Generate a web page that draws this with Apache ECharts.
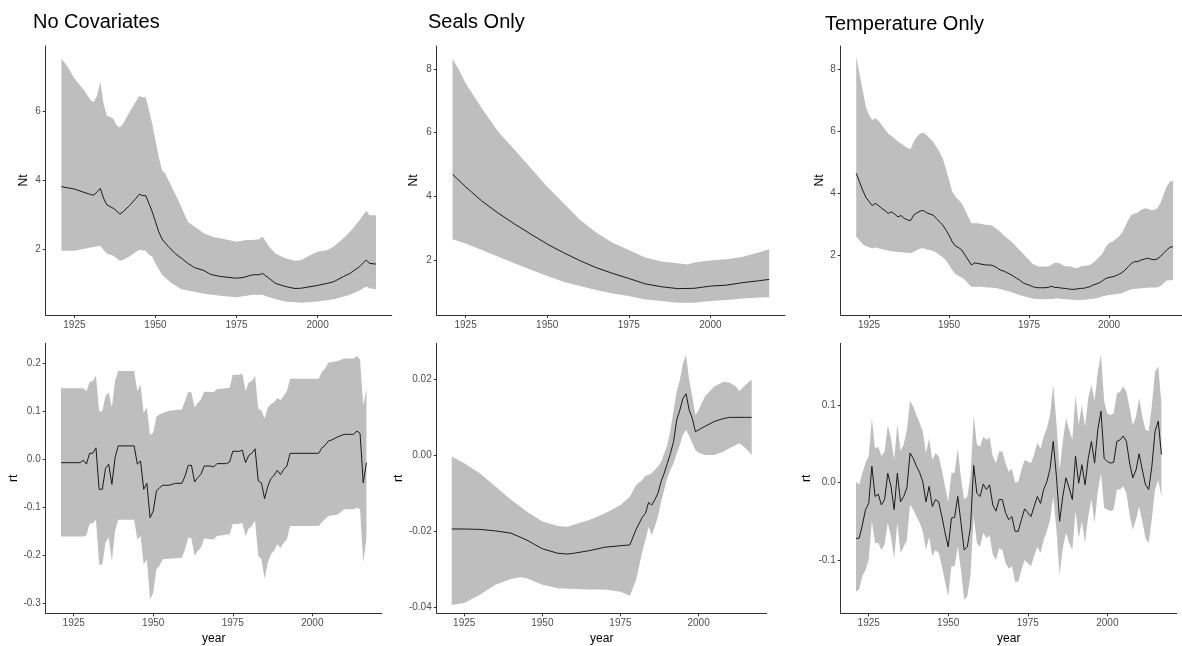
<!DOCTYPE html>
<html><head><meta charset="utf-8">
<script src="https://cdn.jsdelivr.net/npm/echarts@6/dist/echarts.min.js"></script>
<style>html,body{margin:0;padding:0;background:#fff}#c{width:1182px;height:646px}</style>
</head><body><div id="c"></div>
<script>
// ---------- tick labels ----------
const xTicks = [1925, 1950, 1975, 2000];
const ntTicks = [2, 4, 6];
const ntTicks8 = [2, 4, 6, 8];
const rtTicksNC = [-0.3, -0.2, -0.1, 0.0, 0.1, 0.2];
const rtTicksSeal = [-0.04, -0.02, 0.00, 0.02];
const rtTicksTemp = [-0.1, 0.0, 0.1];
const titles = ["No Covariates", "Seals Only", "Temperature Only"];

// ---------- No Covariates: Nt ----------
const ncNtMean = [[1921,3.82],[1925,3.75],[1930,3.59],[1931,3.57],[1932,3.67],[1933,3.77],[1934,3.48],[1935,3.29],[1937,3.19],[1938,3.12],[1939,3.02],[1940,3.09],[1942,3.27],[1944,3.48],[1945,3.6],[1946,3.56],[1947,3.56],[1948,3.33],[1949,3.09],[1950,2.8],[1951,2.51],[1952,2.3],[1954,2.08],[1956,1.88],[1958,1.74],[1960,1.59],[1962,1.47],[1965,1.38],[1967,1.27],[1970,1.21],[1975,1.16],[1977,1.18],[1980,1.26],[1982,1.26],[1983,1.3],[1985,1.16],[1987,1.01],[1990,0.92],[1993,0.86],[1995,0.87],[2000,0.95],[2003,1.01],[2005,1.06],[2008,1.21],[2010,1.3],[2013,1.5],[2015,1.69],[2016,1.59],[2018,1.57]];
const ncNtUpper = [[1921,7.54],[1923,7.29],[1925,6.96],[1928,6.62],[1930,6.33],[1931,6.28],[1932,6.47],[1933,6.86],[1934,6.23],[1935,5.89],[1937,5.8],[1938,5.6],[1939,5.54],[1940,5.65],[1942,5.99],[1944,6.3],[1945,6.45],[1946,6.42],[1947,6.42],[1948,6.04],[1949,5.65],[1950,5.17],[1951,4.69],[1952,4.3],[1953,4.2],[1955,3.82],[1957,3.43],[1960,2.8],[1962,2.66],[1965,2.46],[1968,2.35],[1970,2.32],[1975,2.22],[1978,2.27],[1980,2.27],[1982,2.29],[1983,2.37],[1985,2.08],[1987,1.88],[1990,1.74],[1993,1.67],[1995,1.69],[1998,1.84],[2000,1.93],[2003,1.98],[2005,2.08],[2008,2.32],[2010,2.51],[2013,2.85],[2015,3.12],[2016,2.99],[2018,2.99]];
const ncNtLower = [[1921,1.96],[1925,1.96],[1930,2.05],[1933,2.1],[1934,1.98],[1935,1.88],[1937,1.81],[1939,1.67],[1940,1.69],[1942,1.79],[1944,1.93],[1945,1.98],[1947,1.96],[1948,1.84],[1949,1.79],[1950,1.59],[1952,1.26],[1955,1.01],[1958,0.84],[1960,0.8],[1965,0.71],[1970,0.65],[1975,0.61],[1980,0.68],[1983,0.68],[1985,0.61],[1988,0.53],[1990,0.48],[1995,0.45],[2000,0.48],[2005,0.55],[2010,0.68],[2013,0.8],[2015,0.92],[2016,0.87],[2018,0.84]];

// ---------- No Covariates: rt ----------
const ncRtMean = [[1921,-0.007],[1927,-0.007],[1928,-0.002],[1929,-0.010],[1930,0.0125],[1931,0.0125],[1932,0.024],[1933,-0.0625],[1934,-0.0625],[1935,-0.019],[1936,-0.010],[1937,-0.052],[1938,0.0035],[1939,0.028],[1944,0.028],[1945,-0.010],[1946,-0.0035],[1947,-0.0625],[1948,-0.05],[1949,-0.1215],[1950,-0.108],[1951,-0.066],[1952,-0.059],[1953,-0.054],[1955,-0.054],[1957,-0.05],[1959,-0.05],[1960,-0.035],[1961,-0.0125],[1962,-0.0125],[1963,-0.047],[1964,-0.038],[1965,-0.031],[1966,-0.014],[1968,-0.014],[1969,-0.016],[1970,-0.009],[1973,-0.009],[1974,-0.0055],[1975,0.0167],[1977,0.0167],[1978,0.019],[1979,-0.007],[1980,0.008],[1981,0.0125],[1982,0.022],[1983,-0.045],[1984,-0.049],[1985,-0.082],[1986,-0.056],[1987,-0.040],[1988,-0.033],[1989,-0.023],[1990,-0.032],[1991,-0.021],[1992,-0.014],[1993,0.0125],[2002,0.0125],[2003,0.024],[2004,0.029],[2005,0.038],[2006,0.040],[2008,0.047],[2010,0.052],[2013,0.052],[2014,0.059],[2015,0.054],[2016,-0.049],[2017,-0.007]];
const ncRtUpper = [[1921,0.148],[1928,0.148],[1929,0.142],[1930,0.161],[1931,0.163],[1932,0.174],[1933,0.1],[1934,0.1],[1935,0.132],[1936,0.139],[1937,0.108],[1938,0.163],[1939,0.184],[1944,0.184],[1945,0.142],[1946,0.156],[1947,0.097],[1948,0.108],[1949,0.05],[1950,0.056],[1951,0.089],[1952,0.094],[1955,0.101],[1959,0.104],[1960,0.122],[1961,0.141],[1962,0.139],[1963,0.108],[1964,0.118],[1965,0.125],[1966,0.141],[1969,0.14],[1970,0.146],[1974,0.149],[1975,0.176],[1977,0.176],[1978,0.179],[1979,0.142],[1980,0.16],[1981,0.163],[1982,0.174],[1983,0.106],[1984,0.101],[1985,0.085],[1986,0.108],[1987,0.115],[1988,0.119],[1989,0.128],[1990,0.123],[1991,0.132],[1992,0.142],[1993,0.168],[2002,0.168],[2003,0.182],[2004,0.189],[2005,0.201],[2008,0.205],[2010,0.21],[2013,0.21],[2014,0.215],[2015,0.208],[2016,0.1125],[2017,0.146]];
const ncRtLower = [[1921,-0.161],[1928,-0.161],[1929,-0.158],[1930,-0.134],[1931,-0.133],[1932,-0.126],[1933,-0.219],[1934,-0.219],[1935,-0.174],[1936,-0.163],[1937,-0.212],[1938,-0.149],[1939,-0.126],[1944,-0.126],[1945,-0.167],[1946,-0.16],[1947,-0.219],[1948,-0.208],[1949,-0.292],[1950,-0.278],[1951,-0.229],[1952,-0.221],[1953,-0.208],[1955,-0.207],[1959,-0.205],[1960,-0.1875],[1961,-0.163],[1962,-0.165],[1963,-0.201],[1964,-0.191],[1965,-0.184],[1966,-0.165],[1969,-0.167],[1970,-0.16],[1974,-0.156],[1975,-0.135],[1977,-0.135],[1978,-0.132],[1979,-0.16],[1980,-0.144],[1981,-0.139],[1982,-0.128],[1983,-0.201],[1984,-0.208],[1985,-0.249],[1986,-0.215],[1987,-0.198],[1988,-0.19],[1989,-0.177],[1990,-0.185],[1991,-0.174],[1992,-0.167],[1993,-0.139],[2002,-0.139],[2003,-0.131],[2004,-0.125],[2005,-0.118],[2008,-0.115],[2010,-0.104],[2013,-0.104],[2014,-0.101],[2015,-0.104],[2016,-0.215],[2017,-0.165]];

// ---------- Seals Only: Nt ----------
const sealNtMean = [[1921,4.69],[1925,4.30],[1930,3.85],[1935,3.47],[1940,3.13],[1945,2.81],[1950,2.50],[1955,2.23],[1960,1.98],[1965,1.76],[1970,1.58],[1975,1.42],[1980,1.25],[1985,1.16],[1990,1.10],[1995,1.11],[2000,1.18],[2005,1.21],[2010,1.29],[2015,1.35],[2018,1.39]];
const sealNtUpper = [[1921,8.31],[1923,7.97],[1925,7.55],[1930,6.76],[1935,6.03],[1940,5.46],[1945,4.88],[1950,4.30],[1955,3.78],[1960,3.26],[1965,2.86],[1970,2.54],[1975,2.31],[1980,2.08],[1985,1.95],[1990,1.90],[1993,1.86],[1995,1.92],[2000,1.98],[2005,2.02],[2010,2.10],[2015,2.24],[2018,2.34]];
const sealNtLower = [[1921,2.65],[1925,2.52],[1930,2.31],[1935,2.10],[1940,1.90],[1945,1.69],[1950,1.50],[1955,1.32],[1960,1.18],[1965,1.06],[1970,0.95],[1975,0.87],[1980,0.76],[1985,0.71],[1990,0.66],[1995,0.66],[2000,0.71],[2005,0.74],[2010,0.79],[2015,0.82],[2018,0.83]];

// ---------- Seals Only: rt ----------
const sealRtMean = [[1921,-0.0195],[1925,-0.0195],[1930,-0.0196],[1935,-0.0200],[1940,-0.0206],[1945,-0.0224],[1950,-0.0247],[1955,-0.0259],[1958,-0.0261],[1960,-0.0259],[1965,-0.0252],[1970,-0.0243],[1975,-0.0239],[1978,-0.0237],[1980,-0.0196],[1982,-0.0164],[1983,-0.0154],[1984,-0.0125],[1985,-0.0132],[1986,-0.0118],[1987,-0.0101],[1988,-0.0070],[1989,-0.0048],[1990,-0.0022],[1991,0.0004],[1992,0.0035],[1993,0.0092],[1994,0.0118],[1995,0.0149],[1996,0.0161],[1997,0.0118],[1998,0.0096],[1999,0.0061],[2000,0.0066],[2002,0.0075],[2005,0.0088],[2008,0.0096],[2010,0.0099],[2015,0.0099],[2017,0.0099]];
const sealRtUpper = [[1921,-0.0004],[1925,-0.0022],[1930,-0.0048],[1935,-0.0083],[1940,-0.0118],[1945,-0.0149],[1950,-0.0175],[1955,-0.0187],[1958,-0.0189],[1960,-0.0184],[1965,-0.0171],[1970,-0.0154],[1975,-0.0132],[1978,-0.0110],[1980,-0.0079],[1982,-0.0066],[1983,-0.0055],[1984,-0.0053],[1985,-0.0048],[1986,-0.0039],[1987,-0.0031],[1988,-0.0018],[1989,0.0004],[1990,0.0026],[1991,0.0066],[1992,0.0118],[1993,0.0167],[1994,0.0197],[1995,0.0241],[1996,0.0263],[1997,0.0197],[1998,0.0154],[1999,0.0105],[2000,0.0118],[2002,0.0154],[2005,0.0180],[2008,0.0193],[2010,0.0190],[2012,0.0180],[2013,0.0168],[2015,0.0184],[2017,0.0199]];
const sealRtLower = [[1921,-0.0395],[1925,-0.0390],[1930,-0.0368],[1935,-0.0342],[1940,-0.0327],[1943,-0.0322],[1945,-0.0325],[1950,-0.0342],[1955,-0.0351],[1960,-0.0353],[1965,-0.0354],[1970,-0.0354],[1975,-0.0360],[1978,-0.0371],[1980,-0.0329],[1982,-0.0254],[1983,-0.0224],[1984,-0.0189],[1985,-0.0211],[1986,-0.0189],[1987,-0.0162],[1988,-0.0123],[1989,-0.0092],[1990,-0.0061],[1991,-0.0039],[1992,-0.0022],[1993,0.0004],[1994,0.0026],[1995,0.0053],[1996,0.0066],[1997,0.0050],[1998,0.0031],[1999,0.0013],[2000,0.0006],[2002,0.0000],[2005,0.0000],[2008,0.0009],[2010,0.0018],[2013,0.0031],[2015,0.0018],[2017,0.0000]];

// ---------- Temperature Only: Nt ----------
const tempNtMean = [[1921,4.65],[1922,4.38],[1923,4.11],[1924,3.88],[1925,3.74],[1926,3.61],[1927,3.68],[1928,3.61],[1929,3.52],[1930,3.45],[1931,3.36],[1932,3.41],[1933,3.34],[1934,3.25],[1935,3.29],[1936,3.20],[1937,3.15],[1938,3.13],[1939,3.31],[1940,3.38],[1941,3.44],[1942,3.45],[1943,3.38],[1944,3.34],[1945,3.31],[1946,3.20],[1947,3.09],[1948,2.99],[1949,2.83],[1950,2.66],[1951,2.45],[1952,2.31],[1953,2.26],[1954,2.18],[1955,2.02],[1956,1.86],[1957,1.70],[1958,1.77],[1959,1.75],[1960,1.73],[1961,1.71],[1962,1.70],[1963,1.70],[1964,1.67],[1965,1.61],[1966,1.54],[1967,1.51],[1968,1.46],[1969,1.41],[1970,1.35],[1971,1.28],[1972,1.22],[1973,1.14],[1974,1.09],[1975,1.06],[1976,1.01],[1977,0.98],[1978,0.97],[1979,0.97],[1980,0.97],[1981,0.98],[1982,1.02],[1983,0.98],[1984,0.98],[1985,0.96],[1986,0.95],[1987,0.94],[1988,0.92],[1989,0.92],[1990,0.93],[1991,0.95],[1992,0.95],[1993,0.98],[1994,1.00],[1995,1.06],[1996,1.09],[1997,1.13],[1998,1.20],[1999,1.27],[2000,1.30],[2001,1.32],[2002,1.35],[2003,1.40],[2004,1.45],[2005,1.54],[2006,1.65],[2007,1.75],[2008,1.81],[2009,1.81],[2010,1.86],[2011,1.89],[2012,1.92],[2013,1.89],[2014,1.87],[2015,1.89],[2016,1.97],[2017,2.08],[2018,2.18],[2019,2.27],[2020,2.29]];
const tempNtUpper = [[1921,8.40],[1922,7.86],[1923,7.33],[1924,6.79],[1925,6.52],[1926,6.36],[1927,6.42],[1928,6.34],[1929,6.20],[1930,6.06],[1931,5.93],[1932,5.85],[1933,5.77],[1934,5.67],[1935,5.61],[1936,5.53],[1937,5.45],[1938,5.43],[1939,5.67],[1940,5.83],[1941,5.93],[1942,5.95],[1943,5.88],[1944,5.77],[1945,5.67],[1946,5.50],[1947,5.34],[1948,5.13],[1949,4.81],[1950,4.43],[1951,4.06],[1952,3.90],[1953,3.79],[1954,3.68],[1955,3.47],[1956,3.25],[1957,3.04],[1958,3.04],[1959,3.04],[1960,3.02],[1962,2.99],[1963,2.99],[1964,2.93],[1965,2.85],[1966,2.77],[1967,2.66],[1968,2.58],[1969,2.50],[1970,2.40],[1971,2.29],[1972,2.18],[1973,2.08],[1974,1.97],[1975,1.86],[1976,1.75],[1977,1.69],[1978,1.65],[1979,1.65],[1980,1.65],[1981,1.65],[1982,1.70],[1983,1.77],[1984,1.77],[1985,1.73],[1986,1.67],[1987,1.65],[1988,1.65],[1989,1.62],[1990,1.60],[1991,1.65],[1992,1.67],[1993,1.68],[1994,1.70],[1995,1.77],[1996,1.86],[1997,1.97],[1998,2.08],[1999,2.29],[2000,2.40],[2001,2.45],[2002,2.53],[2003,2.61],[2004,2.72],[2005,2.93],[2006,3.15],[2007,3.31],[2008,3.36],[2009,3.38],[2010,3.47],[2011,3.52],[2012,3.52],[2013,3.47],[2014,3.47],[2015,3.52],[2016,3.68],[2017,3.95],[2018,4.22],[2019,4.38],[2020,4.41]];
const tempNtLower = [[1921,2.61],[1922,2.50],[1923,2.38],[1924,2.31],[1925,2.27],[1926,2.24],[1927,2.26],[1928,2.24],[1930,2.18],[1932,2.14],[1934,2.12],[1936,2.10],[1938,2.08],[1939,2.13],[1940,2.18],[1941,2.23],[1942,2.24],[1943,2.20],[1944,2.18],[1945,2.15],[1946,2.10],[1947,2.02],[1948,1.95],[1949,1.86],[1950,1.70],[1951,1.54],[1952,1.41],[1953,1.35],[1954,1.30],[1955,1.22],[1956,1.11],[1957,1.00],[1958,1.00],[1960,1.00],[1962,0.98],[1964,0.97],[1965,0.95],[1967,0.90],[1969,0.84],[1970,0.81],[1972,0.74],[1974,0.68],[1975,0.65],[1977,0.61],[1980,0.60],[1982,0.61],[1984,0.63],[1985,0.61],[1987,0.60],[1990,0.57],[1993,0.59],[1995,0.62],[1997,0.66],[1998,0.70],[2000,0.74],[2002,0.76],[2004,0.79],[2005,0.84],[2007,0.92],[2010,0.95],[2013,0.98],[2015,0.98],[2016,1.02],[2017,1.11],[2018,1.20],[2020,1.22]];

// ---------- Temperature Only: rt ----------
const tempRtMean = [[1921,-0.072],[1922,-0.072],[1923,-0.055],[1924,-0.035],[1925,-0.027],[1926,0.021],[1927,-0.018],[1928,-0.015],[1929,-0.029],[1930,-0.022],[1931,0.012],[1932,-0.005],[1933,-0.035],[1934,0.012],[1935,-0.025],[1936,-0.018],[1937,-0.007],[1938,0.038],[1939,0.031],[1940,0.021],[1941,0.013],[1942,0.001],[1943,-0.025],[1944,-0.005],[1945,-0.031],[1946,-0.022],[1947,-0.025],[1948,-0.044],[1949,-0.065],[1950,-0.083],[1951,-0.046],[1952,-0.045],[1953,-0.018],[1954,-0.052],[1955,-0.087],[1956,-0.083],[1957,-0.057],[1958,0.022],[1959,-0.014],[1960,-0.018],[1961,-0.002],[1962,-0.009],[1963,-0.003],[1964,-0.029],[1965,-0.037],[1966,-0.022],[1967,-0.022],[1968,-0.039],[1969,-0.048],[1970,-0.044],[1971,-0.063],[1972,-0.063],[1973,-0.048],[1974,-0.034],[1975,-0.039],[1976,-0.044],[1977,-0.031],[1978,-0.018],[1979,-0.027],[1980,-0.009],[1981,0.001],[1982,0.018],[1983,0.053],[1984,0.008],[1985,-0.050],[1986,-0.018],[1987,0.006],[1988,-0.007],[1989,-0.022],[1990,0.034],[1991,-0.001],[1992,0.023],[1993,-0.003],[1994,0.031],[1995,0.053],[1996,0.025],[1997,0.068],[1998,0.092],[1999,0.031],[2000,0.027],[2001,0.025],[2002,0.026],[2003,0.053],[2004,0.055],[2005,0.060],[2006,0.053],[2007,0.025],[2008,0.006],[2009,0.016],[2010,0.037],[2011,0.016],[2012,-0.003],[2013,-0.009],[2014,0.021],[2015,0.066],[2016,0.079],[2017,0.036]];
const tempRtUpper = [[1921,0.001],[1922,-0.003],[1923,0.012],[1924,0.025],[1925,0.034],[1926,0.083],[1927,0.044],[1928,0.046],[1929,0.034],[1930,0.040],[1931,0.074],[1932,0.057],[1933,0.029],[1934,0.075],[1935,0.041],[1936,0.049],[1937,0.068],[1938,0.105],[1939,0.098],[1940,0.087],[1941,0.077],[1942,0.066],[1943,0.038],[1944,0.057],[1945,0.029],[1946,0.038],[1947,0.034],[1948,0.016],[1949,-0.005],[1950,-0.025],[1951,0.012],[1952,0.013],[1953,0.044],[1954,0.006],[1955,-0.022],[1956,-0.018],[1957,0.008],[1958,0.087],[1959,0.049],[1960,0.046],[1961,0.059],[1962,0.055],[1963,0.058],[1964,0.034],[1965,0.025],[1966,0.040],[1967,0.040],[1968,0.025],[1969,0.014],[1970,0.018],[1971,0.000],[1972,0.001],[1973,0.016],[1974,0.029],[1975,0.027],[1976,0.025],[1977,0.036],[1978,0.051],[1979,0.044],[1980,0.059],[1981,0.070],[1982,0.087],[1983,0.126],[1984,0.077],[1985,0.016],[1986,0.053],[1987,0.083],[1988,0.068],[1989,0.055],[1990,0.113],[1991,0.074],[1992,0.100],[1993,0.072],[1994,0.109],[1995,0.126],[1996,0.105],[1997,0.143],[1998,0.165],[1999,0.105],[2000,0.089],[2001,0.087],[2002,0.089],[2003,0.115],[2004,0.117],[2005,0.124],[2006,0.117],[2007,0.096],[2008,0.074],[2009,0.085],[2010,0.109],[2011,0.085],[2012,0.068],[2013,0.066],[2014,0.100],[2015,0.143],[2016,0.150],[2017,0.102]];
const tempRtLower = [[1921,-0.141],[1922,-0.138],[1923,-0.121],[1924,-0.113],[1925,-0.100],[1926,-0.050],[1927,-0.078],[1928,-0.078],[1929,-0.087],[1930,-0.080],[1931,-0.052],[1932,-0.070],[1933,-0.098],[1934,-0.052],[1935,-0.091],[1936,-0.083],[1937,-0.074],[1938,-0.029],[1939,-0.035],[1940,-0.044],[1941,-0.052],[1942,-0.063],[1943,-0.087],[1944,-0.070],[1945,-0.095],[1946,-0.087],[1947,-0.091],[1948,-0.108],[1949,-0.128],[1950,-0.147],[1951,-0.108],[1952,-0.108],[1953,-0.083],[1954,-0.113],[1955,-0.151],[1956,-0.147],[1957,-0.119],[1958,-0.044],[1959,-0.078],[1960,-0.083],[1961,-0.065],[1962,-0.072],[1963,-0.068],[1964,-0.093],[1965,-0.100],[1966,-0.085],[1967,-0.087],[1968,-0.104],[1969,-0.111],[1970,-0.108],[1971,-0.128],[1972,-0.128],[1973,-0.113],[1974,-0.100],[1975,-0.104],[1976,-0.108],[1977,-0.095],[1978,-0.083],[1979,-0.091],[1980,-0.074],[1981,-0.063],[1982,-0.048],[1983,-0.018],[1984,-0.061],[1985,-0.119],[1986,-0.085],[1987,-0.065],[1988,-0.078],[1989,-0.087],[1990,-0.037],[1991,-0.072],[1992,-0.050],[1993,-0.078],[1994,-0.044],[1995,-0.022],[1996,-0.052],[1997,-0.012],[1998,0.012],[1999,-0.033],[2000,-0.035],[2001,-0.037],[2002,-0.035],[2003,-0.009],[2004,-0.009],[2005,-0.005],[2006,-0.014],[2007,-0.042],[2008,-0.061],[2009,-0.048],[2010,-0.031],[2011,-0.050],[2012,-0.072],[2013,-0.078],[2014,-0.046],[2015,-0.009],[2016,0.003],[2017,-0.018]];

// ---------- layout ----------
const FONT = '"Liberation Sans", Arial, sans-serif';
const panels = [
  {left:45.7, top:46, width:346, height:269, xMin:1916.15, xMax:2022.85, yMin:0.091, yMax:7.906, yTicks:ntTicks, dec:0, mean:ncNtMean, upper:ncNtUpper, lower:ncNtLower},
  {left:436.7, top:46, width:348.3, height:269, xMin:1916.15, xMax:2022.85, yMin:0.272, yMax:8.72, yTicks:ntTicks8, dec:0, mean:sealNtMean, upper:sealNtUpper, lower:sealNtLower},
  {left:840.7, top:46, width:341.3, height:269, xMin:1916.15, xMax:2022.8, yMin:0.094, yMax:8.74, yTicks:ntTicks8, dec:0, mean:tempNtMean, upper:tempNtUpper, lower:tempNtLower},
  {left:45.7, top:343.3, width:336, height:270, xMin:1916.2, xMax:2021.8, yMin:-0.3208, yMax:0.2417, yTicks:rtTicksNC, dec:1, mean:ncRtMean, upper:ncRtUpper, lower:ncRtLower},
  {left:436.7, top:343.3, width:330, height:270, xMin:1916.2, xMax:2021.8, yMin:-0.0417, yMax:0.0294, yTicks:rtTicksSeal, dec:2, mean:sealRtMean, upper:sealRtUpper, lower:sealRtLower},
  {left:840.7, top:343.3, width:336, height:270, xMin:1916.2, xMax:2021.8, yMin:-0.1688, yMax:0.1796, yTicks:rtTicksTemp, dec:1, mean:tempRtMean, upper:tempRtUpper, lower:tempRtLower}
];

const grids = [], xAxes = [], yAxes = [], series = [];
panels.forEach(function (p, i) {
  grids.push({left:p.left, top:p.top, width:p.width, height:p.height, containLabel:false});
  xAxes.push({
    type:'value', gridIndex:i, min:p.xMin, max:p.xMax,
    axisLine:{show:true, onZero:false, lineStyle:{color:'#333', width:1}},
    axisTick:{show:true, length:3, lineStyle:{color:'#333', width:1}, customValues:xTicks},
    axisLabel:{show:true, customValues:xTicks, fontSize:10, color:'#4d4d4d', margin:5, fontFamily:FONT,
      formatter:function(v){return String(Math.round(v));}},
    splitLine:{show:false}
  });
  yAxes.push({
    type:'value', gridIndex:i, min:p.yMin, max:p.yMax,
    axisLine:{show:true, onZero:false, lineStyle:{color:'#333', width:1}},
    axisTick:{show:true, length:3, lineStyle:{color:'#333', width:1}, customValues:p.yTicks},
    axisLabel:{show:true, customValues:p.yTicks, fontSize:10, color:'#4d4d4d', margin:5, fontFamily:FONT,
      formatter:(function(d){return function(v){return v.toFixed(d);};})(p.dec)},
    splitLine:{show:false}
  });
  series.push({
    type:'custom', xAxisIndex:i, yAxisIndex:i, silent:true, clip:true, z:1,
    data:[p.upper[0]],
    renderItem:(function(up, lo){
      return function(params, api){
        const pts = [];
        for (let k = 0; k < up.length; k++) pts.push(api.coord(up[k]));
        for (let k = lo.length - 1; k >= 0; k--) pts.push(api.coord(lo[k]));
        return {type:'polygon', shape:{points:pts}, style:{fill:'#bebebe', stroke:null}};
      };
    })(p.upper, p.lower)
  });
  series.push({
    type:'line', xAxisIndex:i, yAxisIndex:i, data:p.mean, showSymbol:false, symbol:'none',
    lineStyle:{color:'#1a1a1a', width:1}, z:3, silent:true
  });
});

function txt(text, x, y, size, rot, color) {
  return {type:'text', x:x, y:y, rotation:rot || 0, silent:true,
    style:{text:text, font:size + 'px ' + FONT, fill:color || '#000',
      align:'center', verticalAlign:'middle', textAlign:'center', textVerticalAlign:'middle'}};
}
function ltxt(text, x, y, size) {
  return {type:'text', x:x, y:y, silent:true,
    style:{text:text, font:size + 'px ' + FONT, fill:'#000',
      align:'left', verticalAlign:'middle', textAlign:'left', textVerticalAlign:'middle'}};
}

const graphics = [
  ltxt(titles[0], 33, 22, 20),
  ltxt(titles[1], 428, 22, 20),
  ltxt(titles[2], 825, 24, 20),
  txt('Nt', 23.3, 180.5, 12, Math.PI / 2),
  txt('Nt', 413.3, 180.5, 12, Math.PI / 2),
  txt('Nt', 819.3, 180.5, 12, Math.PI / 2),
  txt('rt', 13.3, 478.3, 12, Math.PI / 2),
  txt('rt', 399, 478.3, 12, Math.PI / 2),
  txt('rt', 806.7, 478.3, 12, Math.PI / 2),
  txt('year', 213.7, 638.5, 12, 0),
  txt('year', 601.7, 638.5, 12, 0),
  txt('year', 1008.7, 638.5, 12, 0)
];

const chart = echarts.init(document.getElementById('c'), null, {renderer:'canvas'});
chart.setOption({
  animation:false,
  backgroundColor:'#ffffff',
  grid:grids, xAxis:xAxes, yAxis:yAxes, series:series,
  graphic:graphics
});
</script>
</body></html>
